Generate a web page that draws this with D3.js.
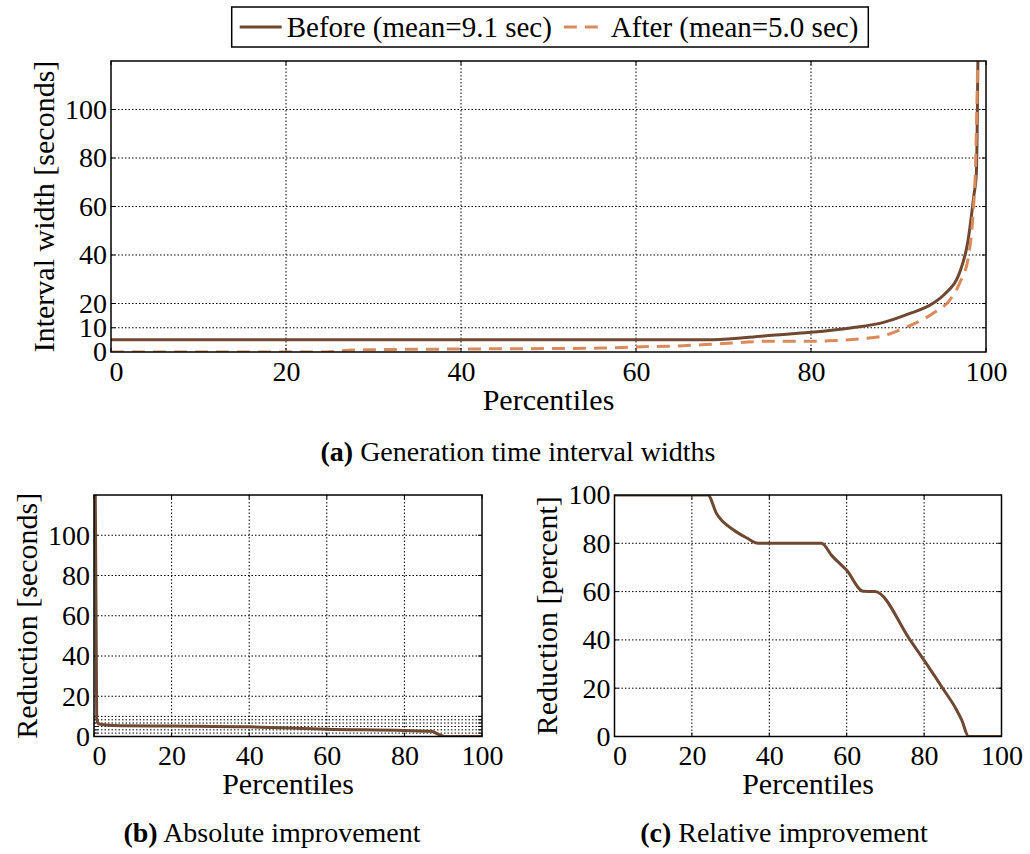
<!DOCTYPE html>
<html>
<head>
<meta charset="utf-8">
<script src="https://cdn.jsdelivr.net/npm/d3@7"></script>
<style>
  body { margin: 0; background: #fff; }
  text { font-family: "Liberation Serif", serif; fill: #000; }
</style>
</head>
<body>
<div id="chart"></div>
<script>
// (a) interval widths per percentile
const pctBefore = [0, 56, 68.8, 74.9, 80, 84.5, 88.3, 91, 94, 95.2, 97.1, 97.9, 98.6, 98.9, 99.1];
const widthBefore = [5.1, 5.1, 5.1, 6.7, 8.1, 9.9, 12.2, 15.5, 20.2, 23.6, 33.9, 45, 64.2, 73.8, 130];
const pctAfter = [0, 24.6, 27, 30.8, 38.4, 55.9, 60, 65.4, 69.2, 74.9, 79.9, 82, 85.6, 88.3, 90.2, 94, 95.9, 97, 98, 98.5, 98.8, 99.1];
const widthAfter = [0, 0, 0.7, 1, 1.2, 1.6, 2.1, 2.6, 3.3, 4.4, 4.4, 4.6, 5.4, 6.7, 9.2, 16.1, 21.6, 28.5, 39.4, 56, 76.5, 130];

// (b) absolute improvement
const pctAbs = [0.3, 0.7, 1.3, 5, 20, 40, 60, 80, 87, 88.6, 90.4, 100];
const reductionAbs = [130, 9, 6.2, 5.5, 5.2, 4.8, 3.6, 3, 2.6, 1.2, 0, 0];

// (c) relative improvement
const pctRel = [0, 24.1, 26.4, 30.7, 34.1, 37.1, 53.5, 56.1, 60, 64.3, 67.3, 76.4, 84.8, 88.4, 89.7, 91.5, 100];
const reductionRel = [100, 100, 92.2, 85.6, 82.3, 80, 80, 75, 68.8, 60.1, 60, 39.9, 20, 11, 6.9, 0, 0];

const xTicks = [0, 20, 40, 60, 80, 100];
const yTicksA = [0, 10, 20, 40, 60, 80, 100];
const yTicksB = [0, 20, 40, 60, 80, 100];
const yGridExtraB = [1.7, 3.3, 5, 6.7, 8.3, 10];
const yTicksC = [0, 20, 40, 60, 80, 100];

const legendLabels = ["Before (mean=9.1 sec)", "After (mean=5.0 sec)"];

const brown = "#6f4832", orange = "#d98b5b";

const svg = d3.select("#chart").append("svg")
  .attr("width", 1030)
  .attr("height", 854);

let clipCount = 0;

function panel(o) {
  const x = d3.scaleLinear().domain([0, 100]).range([o.left, o.right]);
  const y = d3.scaleLinear().domain(o.yDomain).range([o.bottom, o.top]);
  const g = svg.append("g");

  // grid
  const gridY = o.yTicks.concat(o.extraGrid || []).filter(v => v > o.yDomain[0] && v < o.yDomain[1]);
  g.selectAll(".gy").data(gridY).join("line")
    .attr("x1", o.left).attr("x2", o.right)
    .attr("y1", d => y(d)).attr("y2", d => y(d))
    .attr("stroke", "#000").attr("stroke-width", 1).attr("stroke-dasharray", "1.5,2");
  g.selectAll(".gx").data(xTicks.filter(v => v > 0 && v < 100)).join("line")
    .attr("y1", o.top).attr("y2", o.bottom)
    .attr("x1", d => x(d)).attr("x2", d => x(d))
    .attr("stroke", "#000").attr("stroke-width", 1).attr("stroke-dasharray", "1.5,2");

  // small inner ticks
  g.selectAll(".tl").data(gridY).join("path")
    .attr("d", d => `M${o.left},${y(d)}h4M${o.right},${y(d)}h-4`)
    .attr("stroke", "#000").attr("stroke-width", 1);
  g.selectAll(".tb").data(xTicks).join("path")
    .attr("d", d => `M${x(d)},${o.bottom}v-4M${x(d)},${o.top}v4`)
    .attr("stroke", "#000").attr("stroke-width", 1);

  // series
  const id = "clip" + (clipCount++);
  g.append("clipPath").attr("id", id).append("rect")
    .attr("x", o.left).attr("y", o.top)
    .attr("width", o.right - o.left).attr("height", o.bottom - o.top);
  const line = d3.line().curve(d3.curveMonotoneX).x(d => x(d[0])).y(d => y(d[1]));
  o.series.forEach(s => {
    g.append("path")
      .datum(d3.zip(s.x, s.y))
      .attr("clip-path", `url(#${id})`)
      .attr("d", line)
      .attr("fill", "none")
      .attr("stroke", s.color)
      .attr("stroke-width", 3)
      .attr("stroke-dasharray", s.dash || null);
  });

  // frame
  g.append("rect")
    .attr("x", o.left).attr("y", o.top)
    .attr("width", o.right - o.left).attr("height", o.bottom - o.top)
    .attr("fill", "none").attr("stroke", "#000").attr("stroke-width", 1.5);

  // tick labels via axes
  const ya = g.append("g")
    .attr("transform", `translate(${o.left},0)`)
    .call(d3.axisLeft(y).tickValues(o.yTicks).tickSize(0).tickPadding(4));
  const xa = g.append("g")
    .attr("transform", `translate(0,${o.bottom})`)
    .call(d3.axisBottom(x).tickValues(xTicks).tickSize(0).tickPadding(9));
  [ya, xa].forEach(a => {
    a.select(".domain").remove();
    a.selectAll("text").style("font-size", "28px").attr("font-family", null);
  });
  xa.selectAll("text").attr("dy", "0.71em");
  // keep the first x label clear of the y "0"
  xa.selectAll("text").filter(d => d === 0).attr("dx", 5);

  // titles
  g.append("text")
    .attr("x", (o.left + o.right) / 2).attr("y", o.xLabelY)
    .attr("text-anchor", "middle").style("font-size", "30px")
    .text("Percentiles");
  g.append("text")
    .attr("transform", `translate(${o.yLabelX},${(o.top + o.bottom) / 2}) rotate(-90)`)
    .attr("text-anchor", "middle").attr("dominant-baseline", "central")
    .style("font-size", "30px")
    .text(o.yLabel);

  const cap = g.append("text")
    .attr("x", o.captionX).attr("y", o.captionY)
    .attr("text-anchor", "middle").style("font-size", "28px");
  cap.append("tspan").attr("font-weight", "bold").text(o.tag);
  cap.append("tspan").text(" " + o.caption);
}

panel({
  left: 111, right: 986, top: 61, bottom: 352, yDomain: [0, 120],
  yTicks: yTicksA,
  series: [
    { x: pctBefore, y: widthBefore, color: brown },
    { x: pctAfter, y: widthAfter, color: orange, dash: "13,8" }
  ],
  yLabel: "Interval width [seconds]", yLabelX: 43, xLabelY: 410,
  tag: "(a)", caption: "Generation time interval widths", captionX: 518, captionY: 461
});

panel({
  left: 94, right: 482, top: 495, bottom: 736.5, yDomain: [0, 120],
  yTicks: yTicksB, extraGrid: yGridExtraB,
  series: [{ x: pctAbs, y: reductionAbs, color: brown }],
  yLabel: "Reduction [seconds]", yLabelX: 26, xLabelY: 794,
  tag: "(b)", caption: "Absolute improvement", captionX: 272, captionY: 842
});

panel({
  left: 614.5, right: 1001.5, top: 495, bottom: 736.5, yDomain: [0, 100],
  yTicks: yTicksC,
  series: [{ x: pctRel, y: reductionRel, color: brown }],
  yLabel: "Reduction [percent]", yLabelX: 546, xLabelY: 794,
  tag: "(c)", caption: "Relative improvement", captionX: 784, captionY: 842
});

// legend
const leg = svg.append("g");
const legBox = leg.append("rect")
  .attr("y", 7).attr("height", 40)
  .attr("fill", "#fff").attr("stroke", "#000").attr("stroke-width", 1.5);
let cx = 0;
const items = [];
legendLabels.forEach((label, i) => {
  const it = leg.append("g");
  it.append("line")
    .attr("x1", cx + 8).attr("x2", cx + 50).attr("y1", 27).attr("y2", 27)
    .attr("stroke", i === 0 ? brown : orange).attr("stroke-width", 3)
    .attr("stroke-dasharray", i === 0 ? null : "13,8");
  const t = it.append("text")
    .attr("x", cx + 55).attr("y", 37)
    .style("font-size", "29px")
    .text(label);
  cx += 55 + t.node().getComputedTextLength() + 4;
  items.push(it);
});
const legW = cx + 6;
const legX = 550 - legW / 2;
legBox.attr("x", legX).attr("width", legW);
items.forEach(it => it.attr("transform", `translate(${legX},0)`));
</script>
</body>
</html>
